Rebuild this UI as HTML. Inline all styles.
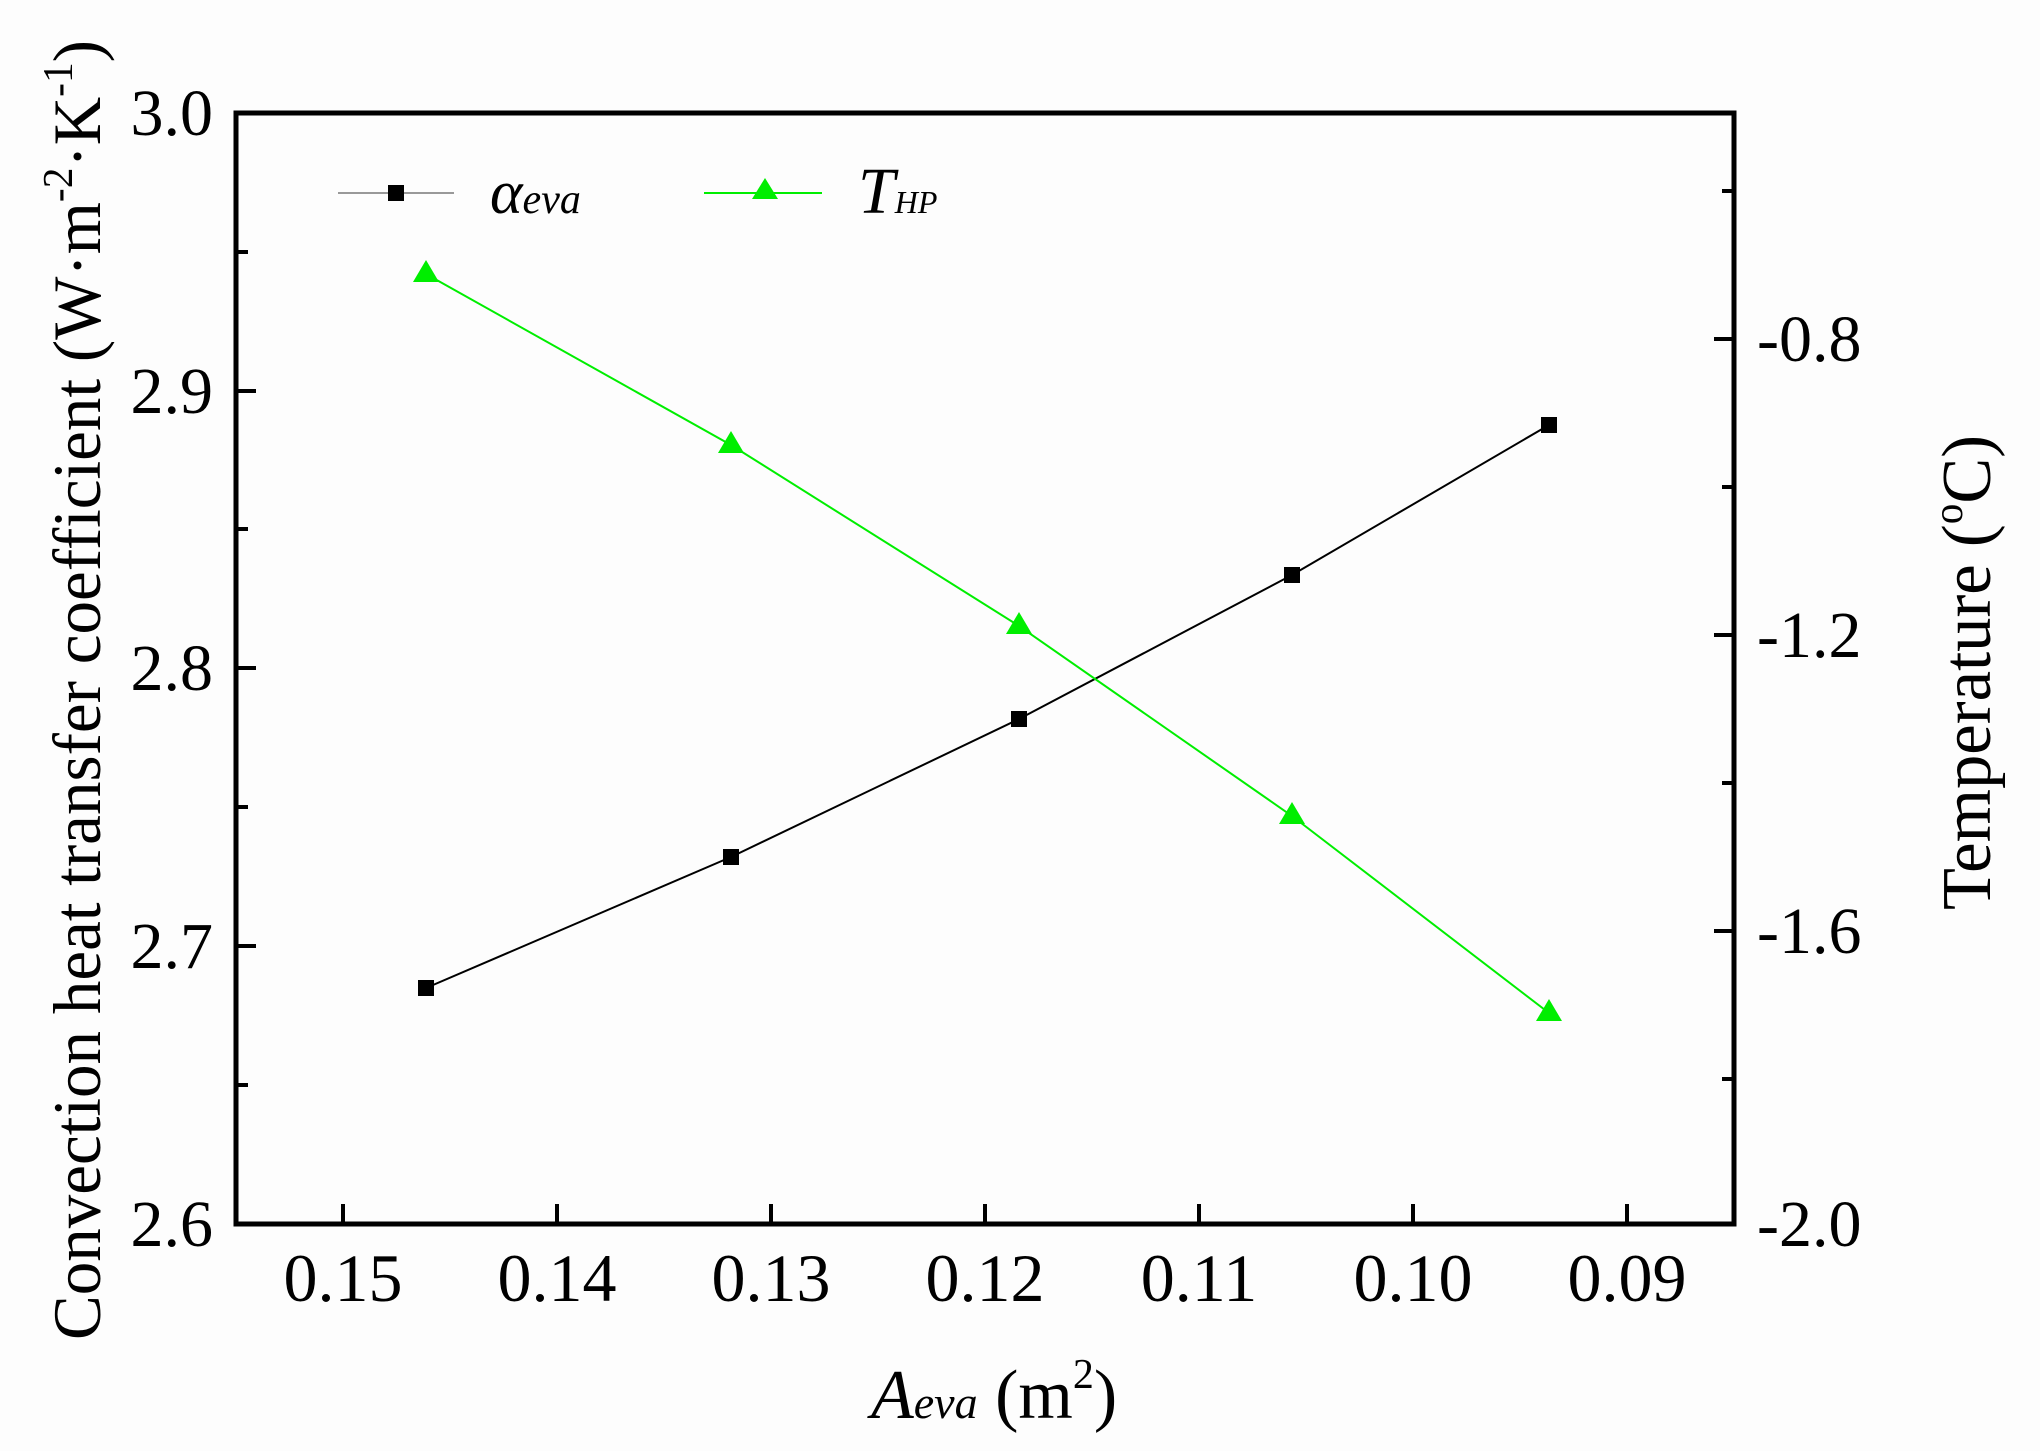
<!DOCTYPE html>
<html><head><meta charset="utf-8"><style>
html,body{margin:0;padding:0;background:#fff;}
svg{display:block;}
text{font-family:"Liberation Serif",serif;fill:#000;}
</style></head><body>
<svg width="2040" height="1451" viewBox="0 0 2040 1451" xmlns="http://www.w3.org/2000/svg">
<rect x="0" y="0" width="2040" height="1451" fill="#fdfdfd"/>
<!-- ticks -->
<g stroke="#000" stroke-width="4">
<!-- bottom major -->
<line x1="343" y1="1224" x2="343" y2="1204"/>
<line x1="557" y1="1224" x2="557" y2="1204"/>
<line x1="771" y1="1224" x2="771" y2="1204"/>
<line x1="985" y1="1224" x2="985" y2="1204"/>
<line x1="1199" y1="1224" x2="1199" y2="1204"/>
<line x1="1413" y1="1224" x2="1413" y2="1204"/>
<line x1="1627" y1="1224" x2="1627" y2="1204"/>
<!-- left major -->
<line x1="236" y1="946" x2="256" y2="946"/>
<line x1="236" y1="668" x2="256" y2="668"/>
<line x1="236" y1="391" x2="256" y2="391"/>
<!-- left minor -->
<line x1="236" y1="1085" x2="248" y2="1085"/>
<line x1="236" y1="807" x2="248" y2="807"/>
<line x1="236" y1="529" x2="248" y2="529"/>
<line x1="236" y1="252" x2="248" y2="252"/>
<!-- right major -->
<line x1="1734" y1="339" x2="1714" y2="339"/>
<line x1="1734" y1="635" x2="1714" y2="635"/>
<line x1="1734" y1="931" x2="1714" y2="931"/>
<!-- right minor -->
<line x1="1734" y1="191" x2="1722" y2="191"/>
<line x1="1734" y1="487" x2="1722" y2="487"/>
<line x1="1734" y1="783" x2="1722" y2="783"/>
<line x1="1734" y1="1079" x2="1722" y2="1079"/>
</g>
<rect x="236" y="113" width="1498" height="1111" fill="none" stroke="#000" stroke-width="5"/>
<!-- series -->
<polyline points="426,988 731,857 1019,719 1292,575 1549,425" fill="none" stroke="#000" stroke-width="2"/>
<polyline points="426,274 731,445 1019,626 1292,816 1549,1013" fill="none" stroke="#00ee00" stroke-width="2"/>
<g fill="#000">
<rect x="418" y="980" width="16" height="16"/>
<rect x="723" y="849" width="16" height="16"/>
<rect x="1011" y="711" width="16" height="16"/>
<rect x="1284" y="567" width="16" height="16"/>
<rect x="1541" y="417" width="16" height="16"/>
</g>
<g fill="#00ee00">
<polygon points="426,260 413,282 439,282"/>
<polygon points="731,431 718,453 744,453"/>
<polygon points="1019,612 1006,634 1032,634"/>
<polygon points="1292,802 1279,824 1305,824"/>
<polygon points="1549,999 1536,1021 1562,1021"/>
</g>
<!-- legend -->
<line x1="338" y1="193" x2="454" y2="193" stroke="#999" stroke-width="2"/>
<rect x="388" y="185" width="16" height="16" fill="#000"/>
<text x="490" y="213" font-size="62" font-style="italic">α<tspan font-size="42">eva</tspan></text>
<line x1="704" y1="193" x2="822" y2="193" stroke="#00ee00" stroke-width="2"/>
<polygon points="765,178 752,199 778,199" fill="#00ee00"/>
<text x="858" y="213" font-size="66" font-style="italic">T<tspan font-size="32">HP</tspan></text>
<!-- left tick labels -->
<g font-size="66" text-anchor="end">
<text x="213" y="1246">2.6</text>
<text x="213" y="968">2.7</text>
<text x="213" y="690">2.8</text>
<text x="213" y="413">2.9</text>
<text x="213" y="135">3.0</text>
</g>
<!-- right tick labels -->
<g font-size="66">
<text x="1757" y="361">-0.8</text>
<text x="1757" y="657">-1.2</text>
<text x="1757" y="953">-1.6</text>
<text x="1757" y="1246">-2.0</text>
</g>
<!-- bottom tick labels -->
<g font-size="68" text-anchor="middle">
<text x="343" y="1301">0.15</text>
<text x="557" y="1301">0.14</text>
<text x="771" y="1301">0.13</text>
<text x="985" y="1301">0.12</text>
<text x="1199" y="1301">0.11</text>
<text x="1413" y="1301">0.10</text>
<text x="1627" y="1301">0.09</text>
</g>
<!-- axis titles -->
<text x="871" y="1418" font-size="70"><tspan font-style="italic">A</tspan><tspan font-style="italic" font-size="46">eva</tspan> (m<tspan font-size="42" dy="-30">2</tspan><tspan dy="30">)</tspan></text>
<text transform="translate(100,1340) rotate(-90)" font-size="68" textLength="1300" lengthAdjust="spacingAndGlyphs">Convection heat transfer coefficient (W·m<tspan font-size="42" dy="-28">-2</tspan><tspan dy="28">·K</tspan><tspan font-size="42" dy="-28">-1</tspan><tspan dy="28">)</tspan></text>
<text transform="translate(1990,910) rotate(-90)" font-size="70" textLength="475" lengthAdjust="spacingAndGlyphs">Temperature (<tspan font-size="42" dy="-28">o</tspan><tspan dy="28">C)</tspan></text>
</svg>
</body></html>
